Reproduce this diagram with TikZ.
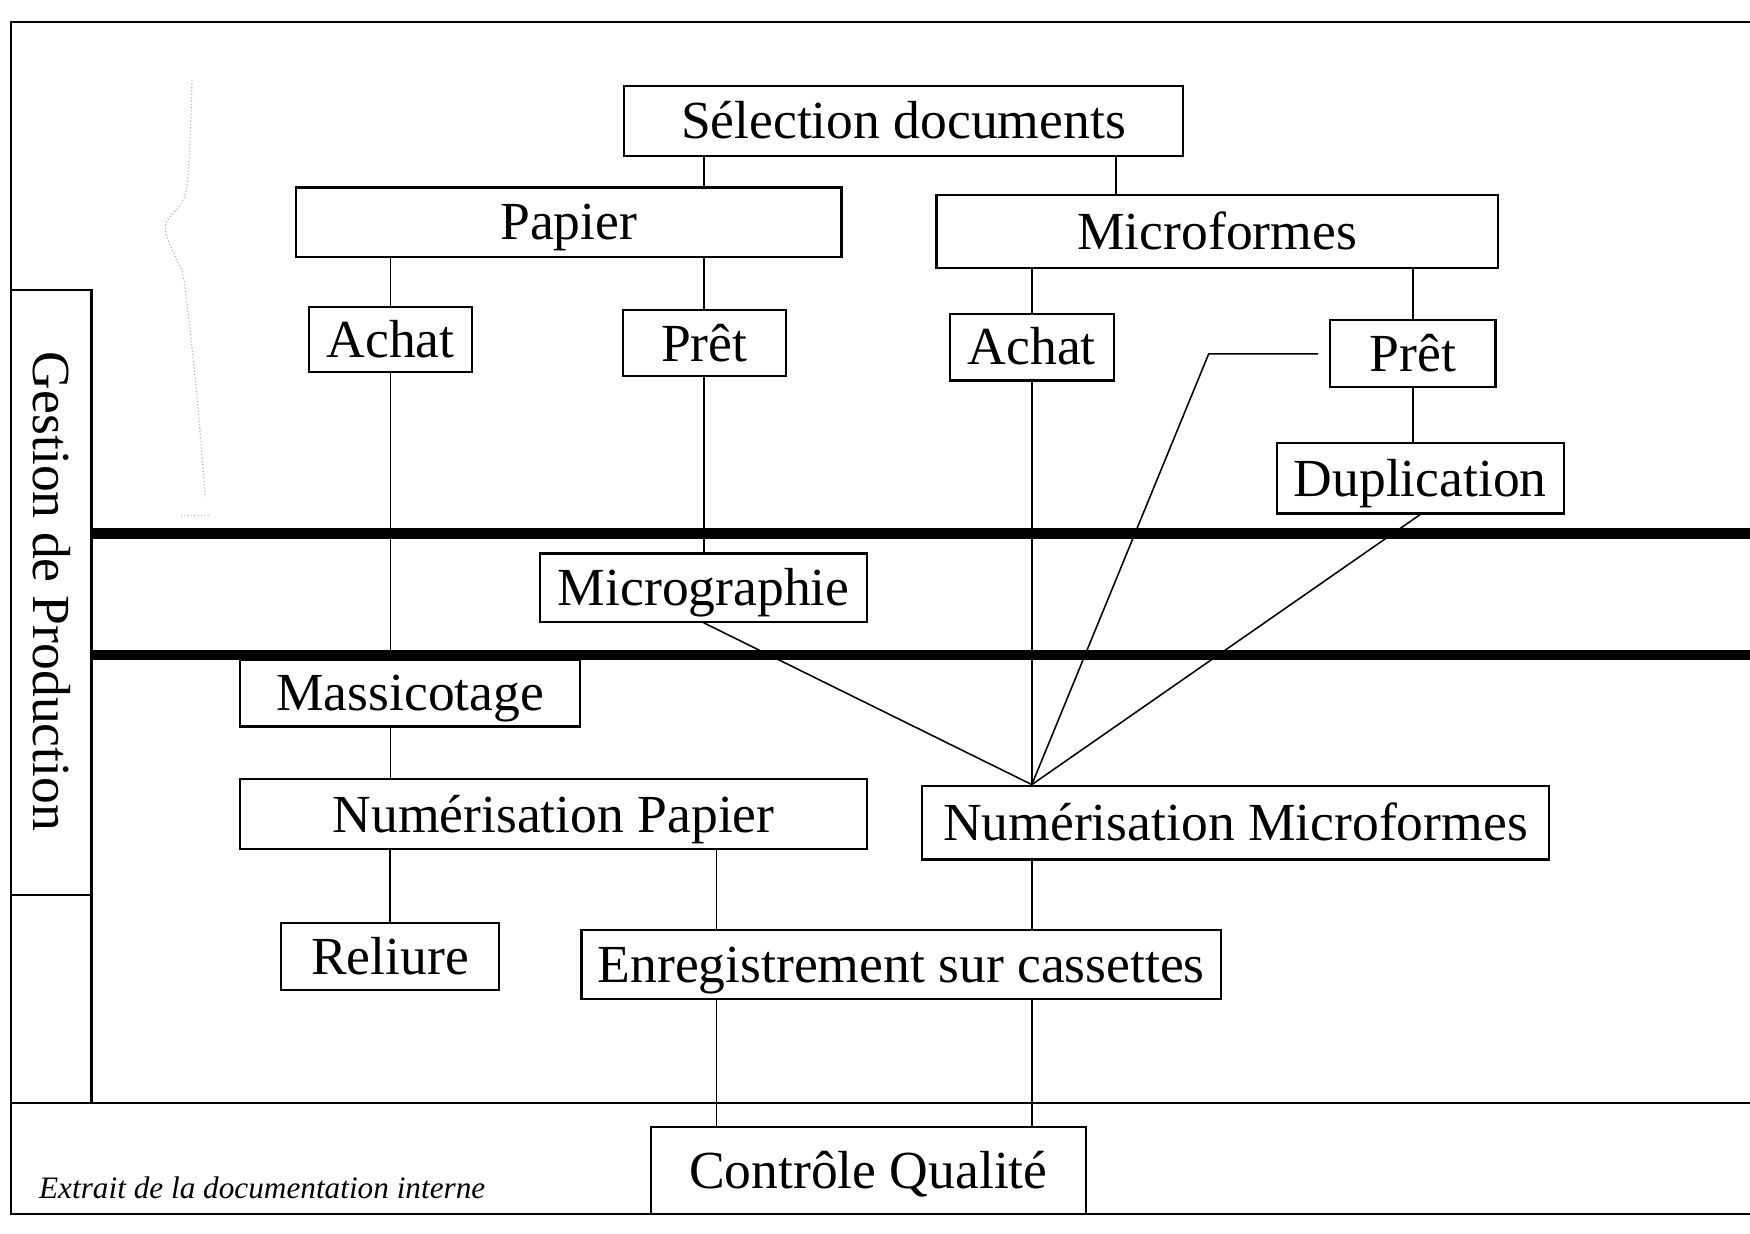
\documentclass[tikz,border=0pt]{standalone}
\usepackage{fontspec}
\setmainfont{Liberation Serif}
\begin{document}
\begin{tikzpicture}[x=0.5pt,y=-0.5pt,
  box/.style={draw, line width=1pt, inner sep=0pt, font=\fontsize{24}{28}\selectfont, text height=16pt, text depth=0pt},
  sz/.style n args={2}{minimum width=#1*0.5pt, minimum height=#2*0.5pt},
  link/.style={line width=0.7pt},
  frameline/.style={line width=1pt},
  band/.style={line width=4.5pt},
  faint/.style={gray!60, densely dotted, line width=0.5pt}]
\fill[white] (0,0) rectangle (1568,1105);
\useasboundingbox (0,0) rectangle (1568,1105);

% frame
\draw[frameline] (1568,20) -- (10,20) -- (10,1088) -- (1568,1088);
\draw[frameline] (10,988) -- (1568,988);
\draw[frameline] (10,260) -- (82,260) -- (82,988);
\draw[frameline] (10,802) -- (82,802);
\node[rotate=-90, font=\fontsize{24}{28}\selectfont] (gest) at (46,530) {Gestion de Production};

% bands
\draw[band] (82,478) -- (1568,478);
\draw[band] (82,587) -- (1568,587);

% faint brace
\draw[faint] plot[smooth] coordinates {(172,72) (167,170) (148,202) (158,232) (165,252) (176,350) (184,446)};
\draw[faint] (162,462) -- (188,462);

% boxes
\node[box, sz={501}{63}] (sel) at (809.5,108.5) {Sélection documents};
\node[box, sz={489}{62}] (pap) at (509.5,199) {Papier};
\node[box, sz={503}{65}] (mic) at (1090.5,207.5) {Microformes};
\node[box, sz={146}{58}] (achP) at (350,304) {Achat};
\node[box, sz={146}{59}] (pretP) at (631,307.5) {Prêt};
\node[box, sz={147}{60}] (achM) at (924.5,311) {Achat};
\node[box, sz={148}{60}] (pretM) at (1266,317) {Prêt};
\node[box, sz={257}{63}] (dup) at (1272.5,428.5) {Duplication};
\node[box, sz={293}{61}] (micg) at (630.5,526.5) {Micrographie};
\node[box, sz={305}{60}] (mass) at (367.5,621) {Massicotage};
\node[box, sz={562}{63}] (numP) at (496,729.5) {Numérisation Papier};
\node[box, sz={562}{66}] (numM) at (1107,737) {Numérisation Microformes};
\node[box, sz={195}{60}] (rel) at (349.5,857) {Reliure};
\node[box, sz={573}{62}] (enr) at (807.5,864) {Enregistrement sur cassettes};
\node[box, sz={390}{78}] (ctrl) at (778,1049) {Contrôle Qualité};

\node[anchor=base west, font=\fontsize{14}{16}\selectfont\itshape] (note) at (28,1074) {Extrait de la documentation interne};

% helper coordinates
\coordinate (xm) at (1000,0);
\coordinate (xl) at (642,0);
\coordinate (bend) at (1083,0);
\coordinate (conv) at (numM.north -| achM.south);

% connectors
\draw[link] (sel.south -| pretP.north) -- (pap.north -| pretP.north);
\draw[link] (sel.south -| xm) -- (mic.north -| xm);
\draw[link] (achP.north |- pap.south) -- (achP.north);
\draw[link] (pretP.north |- pap.south) -- (pretP.north);
\draw[link] (achM.north |- mic.south) -- (achM.north);
\draw[link] (pretM.north |- mic.south) -- (pretM.north);
\draw[link] (pretM.south) -- (pretM.south |- dup.north);
\draw[link] (pretP.south) -- (pretP.south |- micg.north);
\draw[link] (achP.south) -- (achP.south |- mass.north);
\draw[link] (achP.south |- mass.south) -- (achP.south |- numP.north);
\draw[link] (rel.north |- numP.south) -- (rel.north);
\draw[link] (numP.south -| xl) -- (enr.north -| xl);
\draw[link] (enr.south -| xl) -- (ctrl.north -| xl);
\draw[link] (achM.south) -- (conv);
\draw[link] (numM.south -| achM.south) -- (enr.north -| achM.south);
\draw[link] (enr.south -| achM.south) -- (ctrl.north -| achM.south);
\draw[link] (micg.south) -- (conv);
\draw[link] ([xshift=-5pt]pretM.west) -- (pretM.west -| bend) -- (conv);
\draw[link] (dup.south) -- (conv);
\end{tikzpicture}
\end{document}
